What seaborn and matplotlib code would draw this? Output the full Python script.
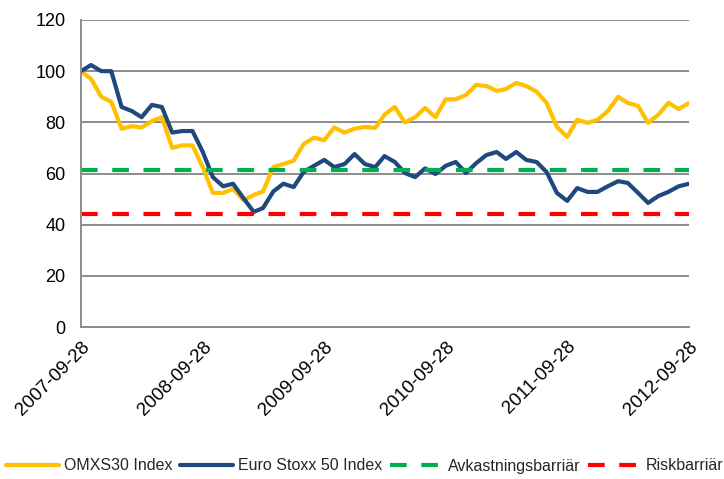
import matplotlib
matplotlib.use("Agg")
import matplotlib.pyplot as plt
import seaborn as sns
import pandas as pd

# ---- data (monthly) ----
omx_values = [100, 97, 90, 88, 77.5, 78.5, 78, 80.5, 82, 70, 71, 71, 62.5, 52.4, 52.4,
              54, 49.6, 51.6, 53, 62.5, 63.7, 65, 71.5, 74, 73, 78, 76, 77.5, 78.2, 77.8, 83,
              86, 80, 82, 85.6, 82, 89, 89, 90.7, 94.6, 94.2, 92.3, 93, 95.4, 94.2, 92, 87.6,
              78.2, 74.3, 81, 79.8, 81, 84.4, 90, 87.6, 86.4, 79.8, 83, 87.6, 85.2, 87.6]
euro_values = [100, 102.4, 100, 100, 86, 84.4, 82, 86.8, 86, 76, 76.6, 76.6, 68.4, 58.6, 55,
               56, 50.4, 45, 46.5, 53, 56, 54.7, 60.6, 63, 65.3, 62.5, 63.7, 67.6, 63.7, 62.5, 66.8,
               64.5, 60.2, 58.6, 62, 59.8, 63, 64.5, 60.2, 64, 67.2, 68.4, 65.7, 68.4, 65.3, 64.5, 60.6,
               52.4, 49.3, 54.3, 52.8, 52.8, 55, 57, 56.3, 52.4, 48.5, 51.2, 52.8, 55, 56]
avkastningsbarriar = 61.5
riskbarriar = 44
start_date = "2007-09-28"
tick_labels = ["2007-09-28", "2008-09-28", "2009-09-28", "2010-09-28", "2011-09-28", "2012-09-28"]
y_ticks = [0, 20, 40, 60, 80, 100, 120]
series_names = ["OMXS30 Index", "Euro Stoxx 50 Index", "Avkastningsbarriär", "Riskbarriär"]

dates = pd.date_range(start_date, periods=len(omx_values), freq=pd.DateOffset(months=1))
df = pd.DataFrame({"date": dates, "omx": omx_values, "euro": euro_values})

sns.set_style("white")
plt.rcParams["font.family"] = ["Liberation Sans", "DejaVu Sans"]

fig = plt.figure(figsize=(7.24, 4.79), dpi=100)
ax = fig.add_axes([81 / 724, 1 - 327 / 479, (689 - 81) / 724, (327 - 20) / 479])

grid_color = "#8c8c8c"
ax.set_ylim(0, 120)
ax.set_yticks(y_ticks)
ax.yaxis.grid(True, color=grid_color, lw=1.4)
ax.set_axisbelow(True)

sns.lineplot(data=df, x="date", y="omx", ax=ax, color="#FFC000", lw=3,
             label=series_names[0], legend=False)
sns.lineplot(data=df, x="date", y="euro", ax=ax, color="#1F497D", lw=3,
             label=series_names[1], legend=False)
ax.axhline(avkastningsbarriar, color="#00B050", lw=3, ls=(0, (4, 3.5)), label=series_names[2])
ax.axhline(riskbarriar, color="#FF0000", lw=3, ls=(0, (4, 3.5)), label=series_names[3])

tick_dates = pd.to_datetime(tick_labels)
ax.set_xlim(dates[0], dates[-1])
ax.set_xticks(tick_dates)
ax.set_xticklabels(tick_labels, rotation=45, ha="right", rotation_mode="anchor")
ax.set_xlabel("")
ax.set_ylabel("")

for s in ["top", "right"]:
    ax.spines[s].set_visible(False)
for s in ["left", "bottom"]:
    ax.spines[s].set_color(grid_color)
    ax.spines[s].set_linewidth(1.4)
ax.tick_params(axis="both", which="major", direction="out", length=5, width=1.4,
               color=grid_color, labelcolor="black")
ax.tick_params(axis="y", pad=6, labelsize=13)
ax.tick_params(axis="x", pad=3, labelsize=13.5)

handles, labels = ax.get_legend_handles_labels()
fig.legend(handles, labels, loc="center left", bbox_to_anchor=(0.0, 1 - 466 / 479),
           ncol=4, frameon=False, fontsize=11.5, handlelength=3.3, handletextpad=0.3,
           columnspacing=0.5, borderaxespad=0, borderpad=0.4)

fig.savefig("out.png", dpi=100)
